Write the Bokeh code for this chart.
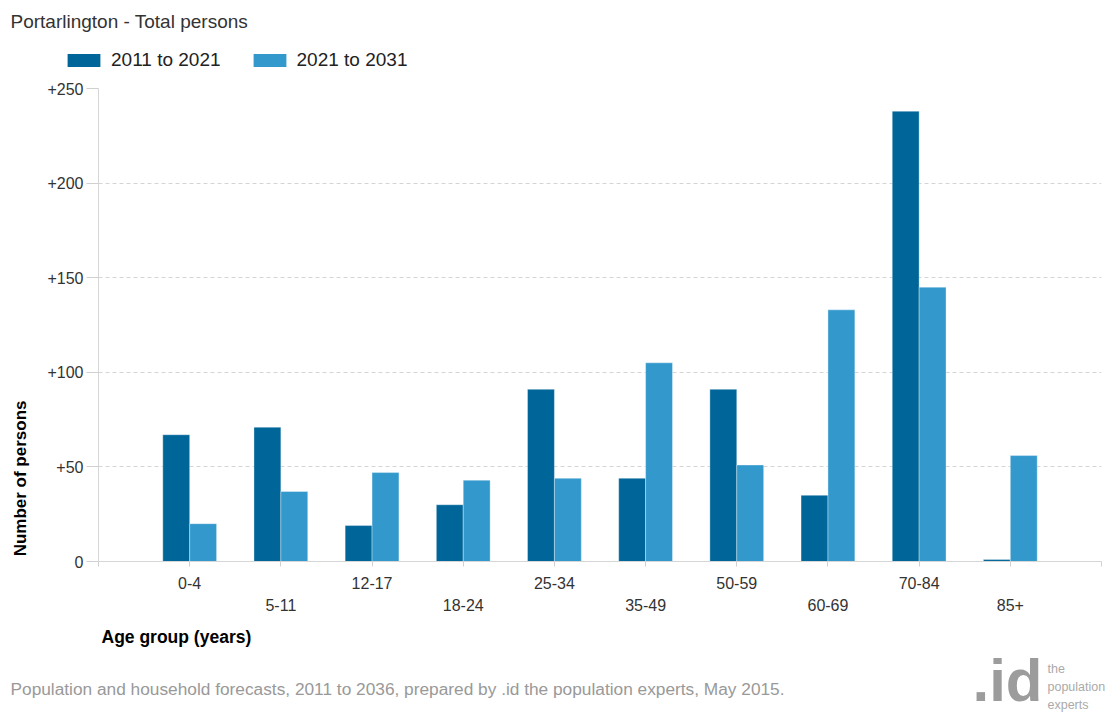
import math
from bokeh.plotting import figure
from bokeh.layouts import column, row
from bokeh.models import (ColumnDataSource, Range1d, FixedTicker, LinearAxis, Label,
                          Legend, LegendItem)
from bokeh.embed import file_html
from bokeh.resources import INLINE

# ---- data ----
categories = ["0-4", "5-11", "12-17", "18-24", "25-34", "35-49", "50-59", "60-69", "70-84", "85+"]
series1_name = "2011 to 2021"
series2_name = "2021 to 2031"
series1 = [67, 71, 19, 30, 91, 44, 91, 35, 238, 1]
series2 = [20, 37, 47, 43, 44, 105, 51, 133, 145, 56]
y_ticks = [0, 50, 100, 150, 200, 250]
y_tick_labels = ["0", "+50", "+100", "+150", "+200", "+250"]

title_text = "Portarlington - Total persons"
y_title = "Number of persons"
x_title = "Age group (years)"
footer_text = "Population and household forecasts, 2011 to 2036, prepared by .id the population experts, May 2015."
logo_big = ".id"
logo_small = ["the", "population", "experts"]

DARK = "#006699"
LIGHT = "#3399cc"
FONT = "Liberation Sans"

W = 1106
TOP_H = 78          # page y 0..78
MAIN_H = 541        # page y 78..619
BOT_H = 95          # page y 619..714
LEFT_W = 40


def blank(width, height):
    f = figure(width=width, height=height, output_backend="svg", toolbar_location=None,
               x_range=Range1d(0, width), y_range=Range1d(0, height),
               x_axis_type=None, y_axis_type=None,
               min_border_left=0, min_border_right=0, min_border_top=0, min_border_bottom=0)
    f.outline_line_color = None
    f.xgrid.grid_line_color = None
    f.ygrid.grid_line_color = None
    f.background_fill_color = "white"
    f.border_fill_color = "white"
    return f


# ---------------- main chart ----------------
pos = list(range(1, len(categories) + 1))
bar_w = 0.295
src = ColumnDataSource(dict(
    x1=[p_ - bar_w / 2 for p_ in pos],
    x2=[p_ + bar_w / 2 for p_ in pos],
    s1=series1, s2=series2,
))

p = figure(width=W - LEFT_W, height=MAIN_H, output_backend="svg", toolbar_location=None,
           x_range=Range1d(0, len(categories) + 1), y_range=Range1d(0, 250),
           min_border_left=98 - LEFT_W, min_border_right=5, min_border_top=10, min_border_bottom=58,
           x_axis_type=None)
p.outline_line_color = None
p.background_fill_color = "white"
p.border_fill_color = "white"

r1 = p.vbar(x="x1", top="s1", width=bar_w, bottom=0, source=src, fill_color=DARK,
            line_color="white", line_alpha=0.35, line_width=1)
r2 = p.vbar(x="x2", top="s2", width=bar_w, bottom=0, source=src, fill_color=LIGHT,
            line_color="white", line_alpha=0.35, line_width=1)

ya = p.yaxis[0]
ya.ticker = FixedTicker(ticks=y_ticks)
ya.major_label_overrides = {t: l for t, l in zip(y_ticks, y_tick_labels)}
ya.axis_line_color = "#d6d6d6"
ya.major_tick_line_color = "#d0d0d0"
ya.major_tick_out = 12
ya.major_tick_in = 0
ya.minor_tick_line_color = None
ya.major_label_standoff = 3
ya.major_label_text_font = FONT
ya.major_label_text_font_size = "16px"
ya.major_label_text_color = "#333333"

p.ygrid.ticker = FixedTicker(ticks=y_ticks[1:])
p.ygrid.grid_line_color = "#d4d4d4"
p.ygrid.grid_line_dash = "4 3"
p.xgrid.grid_line_color = None

all_ticks = list(range(0, len(categories) + 2))
xa1 = LinearAxis(ticker=FixedTicker(ticks=all_ticks))
ov1 = {t: "" for t in all_ticks}
for i, c in enumerate(categories):
    if i % 2 == 0:
        ov1[pos[i]] = c
xa1.major_label_overrides = ov1
xa1.axis_line_color = "#d6d6d6"
xa1.major_tick_line_color = "#d0d0d0"
xa1.major_tick_out = 5
xa1.major_tick_in = 0
xa1.minor_tick_line_color = None
xa1.major_label_standoff = 10
xa1.major_label_text_font = FONT
xa1.major_label_text_font_size = "16px"
xa1.major_label_text_color = "#333333"
p.add_layout(xa1, "below")

odd_pos = [pos[i] for i in range(len(categories)) if i % 2 == 1]
xa2 = LinearAxis(ticker=FixedTicker(ticks=odd_pos))
xa2.major_label_overrides = {pos[i]: categories[i] for i in range(len(categories)) if i % 2 == 1}
xa2.axis_line_color = None
xa2.major_tick_line_color = None
xa2.minor_tick_line_color = None
xa2.major_tick_out = 0
xa2.major_tick_in = 0
xa2.major_label_standoff = 7
xa2.major_label_text_font = FONT
xa2.major_label_text_font_size = "16px"
xa2.major_label_text_color = "#333333"
p.add_layout(xa2, "below")

# ---------------- left strip (y title) ----------------
lf = blank(LEFT_W, MAIN_H)
lf.add_layout(Label(x=20, y=95, text=y_title, text_font=FONT,
                    text_font_size="17px", text_font_style="bold", text_color="#000000",
                    text_align="center", text_baseline="middle", angle=math.pi / 2))

# ---------------- top strip (title + legend) ----------------
tf = blank(W, TOP_H)
tf.add_layout(Label(x=10, y=TOP_H - 21, text=title_text, text_font=FONT,
                    text_font_size="19px", text_color="#333333", text_baseline="middle"))
proxy = ColumnDataSource(dict(x=[float("nan")], top=[float("nan")]))
d1 = tf.vbar(x="x", top="top", width=1, source=proxy, fill_color=DARK, line_color=None)
d2 = tf.vbar(x="x", top="top", width=1, source=proxy, fill_color=LIGHT, line_color=None)
legend = Legend(items=[LegendItem(label=series1_name, renderers=[d1]),
                       LegendItem(label=series2_name, renderers=[d2])],
                orientation="horizontal", location=(63, 7),
                glyph_width=41, glyph_height=16, label_height=20, label_standoff=7,
                spacing=28, padding=0, margin=0, border_line_color=None,
                background_fill_alpha=0, label_text_font=FONT,
                label_text_font_size="19px", label_text_color="#222222")
tf.add_layout(legend, "center")

# ---------------- bottom strip (x title, footer, logo) ----------------
bf = blank(W, BOT_H)
def blab(text, px, py, size, color, bold=False, font=FONT):
    bf.add_layout(Label(x=px, y=(619 + BOT_H) - py, text=text, text_font=font,
                        text_font_size=size, text_color=color,
                        text_font_style="bold" if bold else "normal",
                        text_align="left", text_baseline="middle"))

blab(x_title, 101, 636, "17.5px", "#000000", bold=True)
blab(footer_text, 10, 688, "17.3px", "#999999")
blab(logo_big, 972, 680, "60px", "#9c9c9c", bold=True)
for txt, py in zip(logo_small, [668, 686, 704]):
    blab(txt, 1047, py, "12.5px", "#aaaaaa")

layout = column(tf, row(lf, p), bf)
open("out.html", "w").write(file_html(layout, INLINE))
